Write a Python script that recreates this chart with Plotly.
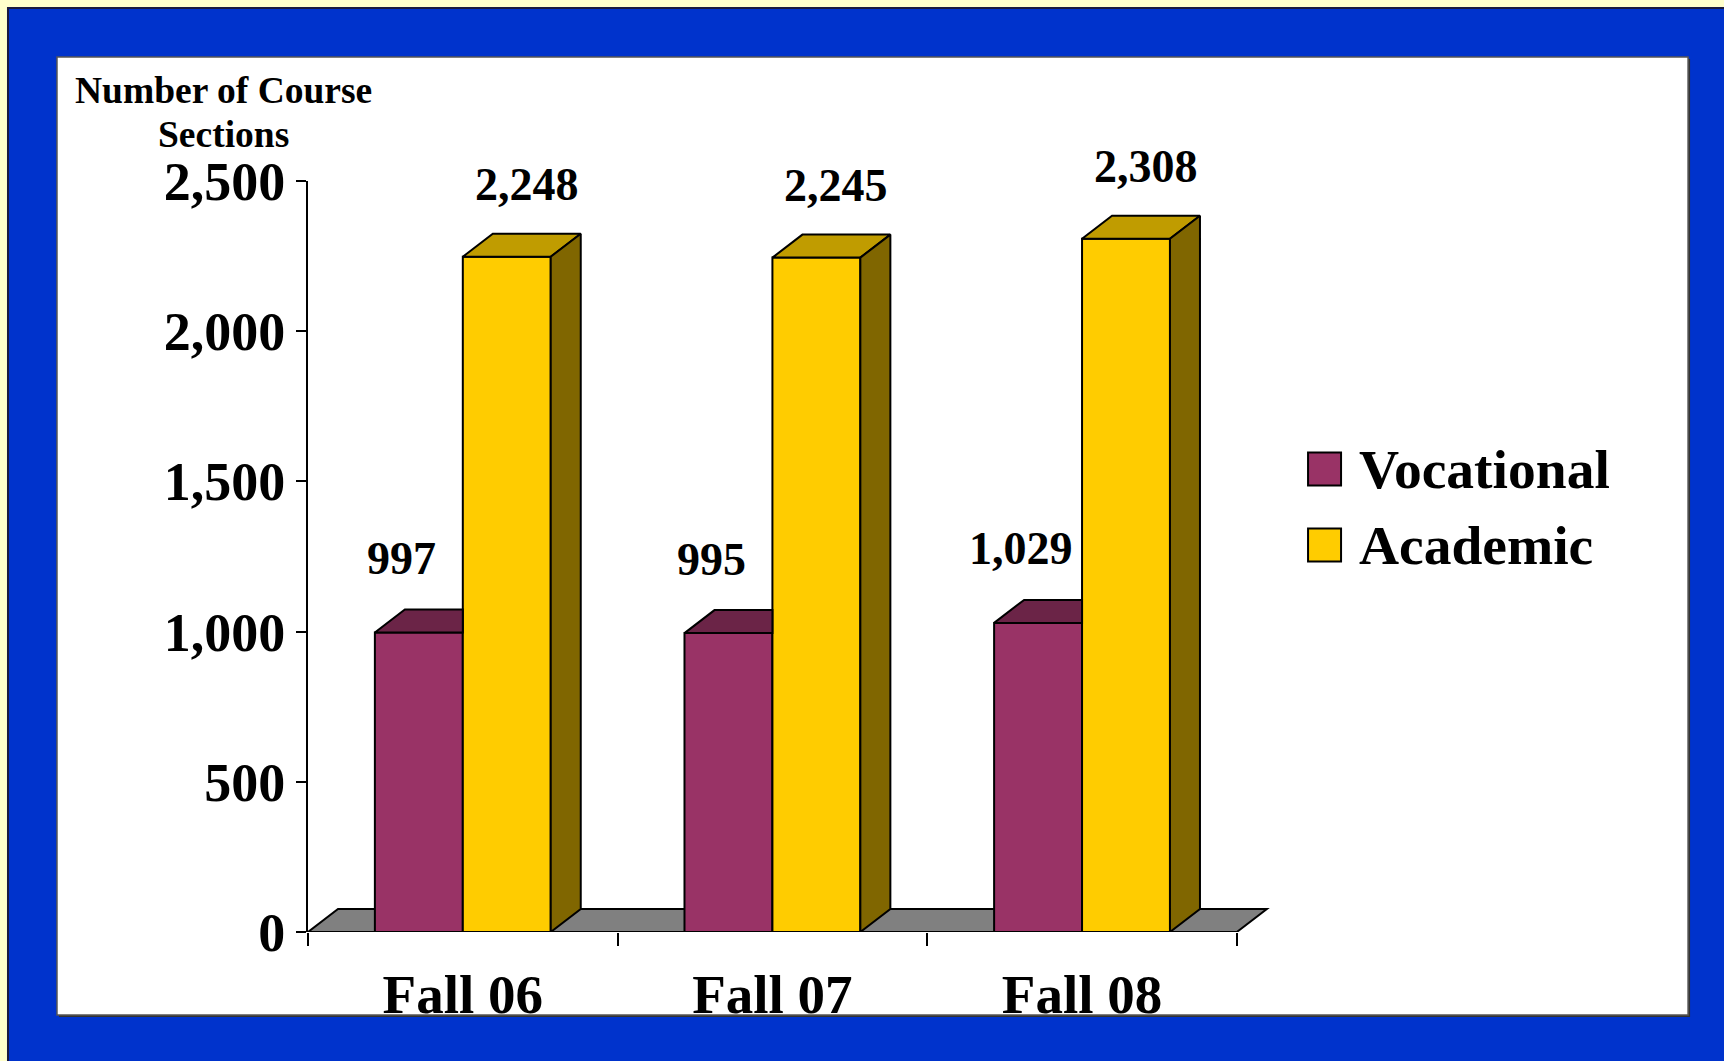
import plotly.graph_objects as go

# ---------------- data ----------------
categories = ["Fall 06", "Fall 07", "Fall 08"]
series_names = ["Vocational", "Academic"]
vocational = [997, 995, 1029]
academic = [2248, 2245, 2308]
y_ticks = [0, 500, 1000, 1500, 2000, 2500]
y_title_lines = ["Number of Course", "Sections"]

# ---------------- style / geometry constants ----------------
FIG_W, FIG_H = 1724, 1061
L, B = 308, 932            # plot left edge, baseline (y=0) in px
PX_CAT = 309.6             # px per category
Y_TOP_PX = 181
Y_MAX = 2500
X_MIN, X_MAX = -0.5, 2.62
W = (X_MAX - X_MIN) * PX_CAT
H = B - Y_TOP_PX
PX_Y = H / Y_MAX
BAR_W = 0.284
DX = 30 / PX_CAT           # 3D depth in data units
DY = 23 / PX_Y

FONT = "Liberation Serif, Times New Roman, serif"
VOC_FRONT, VOC_TOP = "#993366", "#6B2447"
ACA_FRONT, ACA_TOP, ACA_SIDE = "#FFCC00", "#C09C00", "#806600"
BLUE, CREAM = "#0033CC", "#FFFFCC"


def pxx(px):
    return (px - L) / W


def pxy(py):
    return (B - py) / H


xs = list(range(len(categories)))

fig = go.Figure()

# front faces (real bars)
fig.add_trace(go.Bar(x=xs, y=vocational, offset=-BAR_W, width=BAR_W, name=series_names[0],
                     marker=dict(color=VOC_FRONT, line=dict(color="black", width=2)),
                     hoverinfo="skip", showlegend=False))
fig.add_trace(go.Bar(x=xs, y=academic, offset=0, width=BAR_W, name=series_names[1],
                     marker=dict(color=ACA_FRONT, line=dict(color="black", width=2)),
                     hoverinfo="skip", showlegend=False))


def poly_trace(px_list, py_list, color):
    return go.Scatter(x=px_list, y=py_list, mode="lines", fill="toself", fillcolor=color,
                      line=dict(color="black", width=2), hoverinfo="skip", showlegend=False)


# vocational top faces (back part hidden behind academic bar)
vx, vy = [], []
for x, v in zip(xs, vocational):
    vx += [x - BAR_W, x - BAR_W + DX, x, x, x - BAR_W, None]
    vy += [v, v + DY, v + DY, v, v, None]
fig.add_trace(poly_trace(vx, vy, VOC_TOP))

# academic top faces
ax_, ay_ = [], []
for x, a in zip(xs, academic):
    ax_ += [x, x + DX, x + BAR_W + DX, x + BAR_W, x, None]
    ay_ += [a, a + DY, a + DY, a, a, None]
fig.add_trace(poly_trace(ax_, ay_, ACA_TOP))

# academic side faces
sx, sy = [], []
for x, a in zip(xs, academic):
    sx += [x + BAR_W, x + BAR_W + DX, x + BAR_W + DX, x + BAR_W, x + BAR_W, None]
    sy += [0, DY, a + DY, a, 0, None]
fig.add_trace(poly_trace(sx, sy, ACA_SIDE))

shapes = [
    # blue frame
    dict(type="rect", xref="paper", yref="paper", x0=pxx(8), x1=pxx(FIG_W + 5), y0=pxy(FIG_H + 5), y1=pxy(8),
         fillcolor=BLUE, line=dict(color="#1a1a40", width=2), layer="below"),
    # panel shadow
    dict(type="rect", xref="paper", yref="paper", x0=pxx(59), x1=pxx(1690), y0=pxy(1017), y1=pxy(59),
         fillcolor="#333333", line=dict(width=0), layer="below"),
    # white panel
    dict(type="rect", xref="paper", yref="paper", x0=pxx(57), x1=pxx(1688), y0=pxy(1015), y1=pxy(57),
         fillcolor="white", line=dict(color="#555555", width=1.5), layer="below"),
    # floor
    dict(type="path", xref="x", yref="y",
         path=f"M {-0.5},0 L {len(categories) - 0.5},0 L {len(categories) - 0.5 + DX},{DY} L {-0.5 + DX},{DY} Z",
         fillcolor="#808080", line=dict(color="black", width=2), layer="below"),
]

annotations = []
# data labels
for x, v in zip(xs, vocational):
    annotations.append(dict(x=x - BAR_W / 2, y=v, xref="x", yref="y", text=f"{v:,}", showarrow=False,
                            xshift=-17, yshift=74, font=dict(family=FONT, size=46, color="black", weight="bold")))
for x, a in zip(xs, academic):
    annotations.append(dict(x=x + BAR_W / 2, y=a, xref="x", yref="y", text=f"{a:,}", showarrow=False,
                            xshift=20, yshift=72, font=dict(family=FONT, size=46, color="black", weight="bold")))

# y title (two lines)
for line_txt, cy in zip(y_title_lines, [90, 134]):
    annotations.append(dict(x=pxx(224), y=pxy(cy), xref="paper", yref="paper", text=line_txt, showarrow=False,
                            xanchor="center", yanchor="middle",
                            font=dict(family=FONT, size=37.5, color="black", weight="bold")))

# manual legend
for i, (name, col) in enumerate(zip(series_names, [VOC_FRONT, ACA_FRONT])):
    cy = 469 + 76 * i
    shapes.append(dict(type="rect", xref="paper", yref="paper", x0=pxx(1308), x1=pxx(1341),
                       y0=pxy(cy + 16.5), y1=pxy(cy - 16.5), fillcolor=col,
                       line=dict(color="black", width=2)))
    annotations.append(dict(x=pxx(1357), y=pxy(cy), xref="paper", yref="paper", text=name, showarrow=False,
                            xanchor="left", yanchor="middle",
                            font=dict(family=FONT, size=55.5, color="black", weight="bold")))

fig.update_layout(
    width=FIG_W, height=FIG_H,
    margin=dict(l=L, r=FIG_W - L - W, t=Y_TOP_PX, b=FIG_H - B, autoexpand=False),
    paper_bgcolor=CREAM, plot_bgcolor="rgba(0,0,0,0)",
    barmode="overlay", showlegend=False,
    shapes=shapes, annotations=annotations,
    xaxis=dict(range=[X_MIN, X_MAX], tickmode="array", tickvals=xs, ticktext=categories,
               ticks="", showline=False, showgrid=False, zeroline=False,
               ticklabelstandoff=25,
               tickfont=dict(family=FONT, size=55, color="black", weight="bold"),
               minor=dict(tickmode="array", tickvals=[x - 0.5 for x in xs] + [len(xs) - 0.5],
                          ticks="outside", ticklen=13, tickwidth=2, tickcolor="black", showgrid=False)),
    yaxis=dict(range=[0, Y_MAX], tickmode="array", tickvals=y_ticks, tickformat=",",
               ticks="outside", ticklen=10, tickwidth=2, tickcolor="black",
               showline=True, linecolor="black", linewidth=2, showgrid=False, zeroline=False,
               tickfont=dict(family=FONT, size=54, color="black", weight="bold")),
)

fig.write_html("out.html", config={"displayModeBar": False},
               post_script="document.body.style.margin='0';document.body.style.overflow='hidden';"
                           "document.body.style.background='" + CREAM + "';")
